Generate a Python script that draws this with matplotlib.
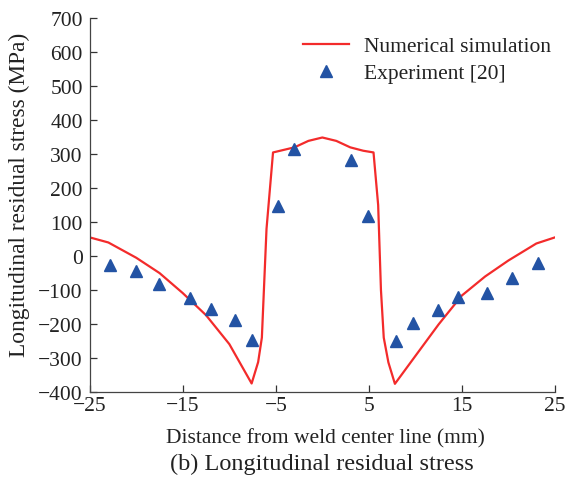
import matplotlib
matplotlib.use("Agg")
import matplotlib.pyplot as plt

plt.rcParams['font.family'] = ['Liberation Serif', 'DejaVu Serif']

# numerical simulation curve (distance in mm, stress in MPa)
sim_x = [-25, -23, -20, -17.5, -15, -12.5, -10, -7.6, -6.9, -6.5, -6.0, -5.3,
         -3, -1.5, 0, 1.5, 3, 4.4, 5.5, 6.0, 6.3, 6.6, 7.1, 7.8,
         10, 12.5, 15, 17.5, 20, 23, 25]
sim_y = [55, 40, -5, -50, -109, -174, -259, -375, -312, -240, 80, 305,
         320, 339, 349, 339, 320, 310, 305, 150, -100, -240, -313, -376,
         -294, -201, -116, -60, -13, 37, 55]

# measured values, ref. [20]
exp_x = [-22.85, -20.05, -17.6, -14.25, -12.0, -9.4, -7.55, -4.75, -3.0,
         3.1, 4.9, 7.97, 9.77, 12.45, 14.6, 17.7, 20.35, 23.2]
exp_y = [-27, -43, -82, -124, -156, -188, -246, 148, 315,
         282, 119, -249, -197, -159, -121, -110, -65, -21]

xticks = [-25, -15, -5, 5, 15, 25]
yticks = list(range(-400, 701, 100))

fs = 15.5
txt = '#222222'

fig = plt.figure(figsize=(5.68, 4.81), dpi=100)
ax = fig.add_axes([0.158, 0.183, 0.819, 0.777])

ax.plot(sim_x, sim_y, color='#f32b2b', lw=1.6, label='Numerical simulation')
ax.plot(exp_x, exp_y, ls='none', marker='^', ms=8, color='#2353a4',
        label='Experiment [20]')

ax.set_xlim(-25, 25)
ax.set_ylim(-400, 700)
ax.set_xticks(xticks)
ax.set_yticks(yticks)
ax.set_xticklabels([str(t).replace('-', '\u2212') for t in xticks])
ax.set_yticklabels([str(t).replace('-', '\u2212') for t in yticks])
ax.tick_params(direction='in', length=5, width=0.9, labelsize=fs,
               colors='#333333', labelcolor=txt)
ax.tick_params(axis='y', pad=5)
ax.tick_params(axis='x', pad=3)

for s in ['top', 'right']:
    ax.spines[s].set_visible(False)
for s in ['left', 'bottom']:
    ax.spines[s].set_color('#444444')
    ax.spines[s].set_linewidth(0.9)

ax.set_ylabel('Longitudinal residual stress (MPa)', fontsize=16.8, color=txt)
ax.yaxis.set_label_coords(-0.128, 0.53)
ax.set_xlabel('Distance from weld center line (mm)', fontsize=fs, color=txt)
ax.xaxis.set_label_coords(0.507, -0.097)
fig.text(0.566, 0.035, '(b) Longitudinal residual stress', fontsize=17.5,
         color=txt, ha='center', va='center')

ax.legend(loc='upper right', bbox_to_anchor=(1.0, 0.963), frameon=False,
          fontsize=fs, handlelength=2.1, handletextpad=0.7,
          labelspacing=0.32, borderpad=0.2, borderaxespad=0,
          labelcolor=txt)

fig.savefig('out.png', dpi=100)
